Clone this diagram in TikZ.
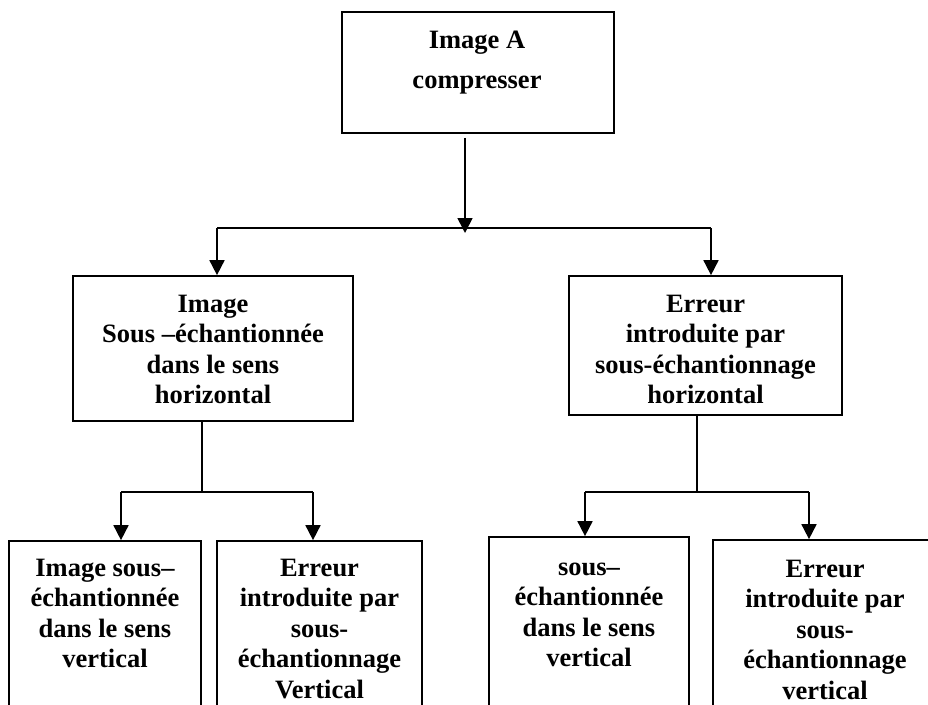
\documentclass[tikz,border=0pt]{standalone}
\usepackage{fontspec}
\setmainfont{Liberation Serif}
\usetikzlibrary{arrows.meta}
\begin{document}
\begin{tikzpicture}[x=1pt,y=-1pt,
  box/.style={draw, line width=1.7pt, inner sep=0pt, rectangle},
  txt/.style={anchor=base, inner sep=0pt, font=\fontsize{26.5}{30.5}\selectfont\bfseries},
  arr/.style={line width=1.7pt, -{Triangle[length=15pt,width=15pt]}},
  ln/.style={line width=1.7pt}]
\useasboundingbox (0,0) rectangle (928,704);
\clip (0,0) rectangle (928,704);
% boxes
\node[box, minimum width=272pt, minimum height=121pt] (top) at (478,72.5) {};
\node[box, minimum width=280pt, minimum height=145pt] (midL) at (213,348.5) {};
\node[box, minimum width=273pt, minimum height=139pt] (midR) at (705.5,345.5) {};
\node[box, minimum width=192pt, minimum height=189pt] (b1) at (105,635.5) {};
\node[box, minimum width=205pt, minimum height=189pt] (b2) at (319.5,635.5) {};
\node[box, minimum width=200pt, minimum height=193pt] (b3) at (589,633.5) {};
\node[box, minimum width=224pt, minimum height=190pt] (b4) at (825,635) {};
% texts
\node[txt] (ttop) at (477,48) {\begin{tabular}[t]{@{}c@{}}Image A\\[9.5pt]compresser\end{tabular}};
\node[txt] (tmidL) at (213,312) {\begin{tabular}[t]{@{}c@{}}Image\\Sous –échantionnée\\dans le sens\\horizontal\end{tabular}};
\node[txt] (tmidR) at (705.5,312) {\begin{tabular}[t]{@{}c@{}}Erreur\\introduite par\\sous-échantionnage\\horizontal\end{tabular}};
\node[txt] (tb1) at (105,576) {\begin{tabular}[t]{@{}c@{}}Image sous–\\échantionnée\\dans le sens\\vertical\end{tabular}};
\node[txt] (tb2) at (319.5,576) {\begin{tabular}[t]{@{}c@{}}Erreur\\introduite par\\sous-\\échantionnage\\Vertical\end{tabular}};
\node[txt] (tb3) at (589,575) {\begin{tabular}[t]{@{}c@{}}sous–\\échantionnée\\dans le sens\\vertical\end{tabular}};
\node[txt] (tb4) at (825,577) {\begin{tabular}[t]{@{}c@{}}Erreur\\introduite par\\sous-\\échantionnage\\vertical\end{tabular}};
% junctions
\coordinate (j1) at (465,228);
\coordinate (jL) at (217,228);
\coordinate (jR) at (711,228);
\coordinate (kL) at (202,492);
\coordinate (kL1) at (121,492);
\coordinate (kL2) at (313,492);
\coordinate (kR) at (697,492);
\coordinate (kR1) at (585,492);
\coordinate (kR2) at (809,492);
% connectors
\draw[arr] ([yshift=-4pt]top.south -| j1) -- ([yshift=-5pt]j1);
\draw[ln] (jL) -- (jR);
\draw[arr] (jL) -- (jL |- midL.north);
\draw[arr] (jR) -- (jR |- midR.north);
\draw[ln] (midL.south -| kL) -- (kL);
\draw[ln] (kL1) -- (kL2);
\draw[arr] (kL1) -- (kL1 |- b1.north);
\draw[arr] (kL2) -- (kL2 |- b2.north);
\draw[ln] (midR.south -| kR) -- (kR);
\draw[ln] (kR1) -- (kR2);
\draw[arr] (kR1) -- (kR1 |- b3.north);
\draw[arr] (kR2) -- (kR2 |- b4.north);
\end{tikzpicture}
\end{document}
